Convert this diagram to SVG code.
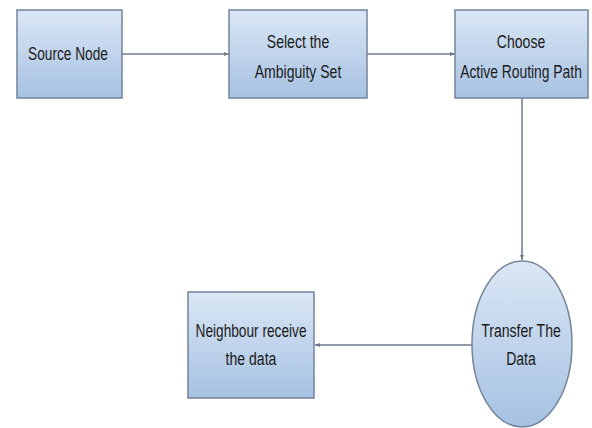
<svg xmlns="http://www.w3.org/2000/svg" width="592" height="428" viewBox="0 0 592 428">
<style>
.box{fill:url(#g);stroke:#74849a;stroke-width:1.5}
.t{font-family:"Liberation Sans",Arial,sans-serif;font-size:19px;fill:#1a1a1a;text-anchor:middle;dominant-baseline:central}
.c{stroke:#6f7a88;stroke-width:1.5;fill:none;marker-end:url(#a)}
</style>
<defs>
<linearGradient id="g" x1="0" y1="0" x2="0" y2="1">
<stop offset="0" stop-color="#dbe7f5"/>
<stop offset="1" stop-color="#a6c1e2"/>
</linearGradient>
<marker id="a" markerWidth="6" markerHeight="6" refX="5" refY="3" orient="auto" markerUnits="userSpaceOnUse">
<path d="M0,1 L5,3 L0,5 z" fill="#6f7a88"/>
</marker>
</defs>
<rect width="592" height="428" fill="#ffffff"/>
<g id="connectors">
<line class="c" x1="122" y1="54" x2="229" y2="54"/>
<line class="c" x1="367" y1="54" x2="455" y2="54"/>
<line class="c" x1="522" y1="98" x2="522" y2="260"/>
<line class="c" x1="472" y1="345" x2="315" y2="345"/>
</g>
<g id="source">
<rect class="box" x="17" y="10" width="105" height="88"/>
<text class="t" transform="translate(68,54) scale(0.72,1)">Source Node</text>
</g>
<g id="select">
<rect class="box" x="229" y="10" width="138" height="88"/>
<text class="t" transform="translate(298,42) scale(0.74,1)">Select the</text>
<text class="t" transform="translate(298,72) scale(0.74,1)">Ambiguity Set</text>
</g>
<g id="choose">
<rect class="box" x="455" y="10" width="133" height="88"/>
<text class="t" transform="translate(521,42) scale(0.74,1)">Choose</text>
<text class="t" transform="translate(521,72) scale(0.73,1)">Active Routing Path</text>
</g>
<g id="transfer">
<ellipse class="box" cx="522" cy="344" rx="50" ry="83"/>
<text class="t" transform="translate(521,331) scale(0.74,1)">Transfer The</text>
<text class="t" transform="translate(521,359) scale(0.74,1)">Data</text>
</g>
<g id="neighbour">
<rect class="box" x="188" y="292" width="126" height="106"/>
<text class="t" transform="translate(251,331) scale(0.72,1)">Neighbour receive</text>
<text class="t" transform="translate(251,359) scale(0.74,1)">the data</text>
</g>
</svg>
